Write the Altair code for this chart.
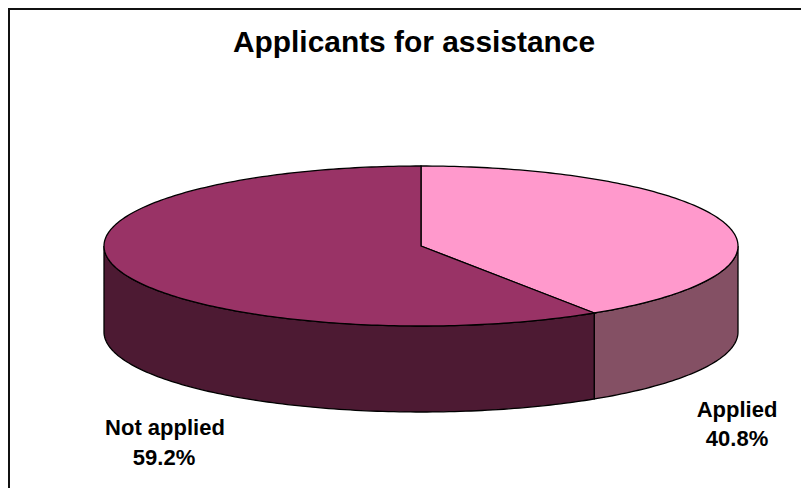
import math
import altair as alt
import pandas as pd

title = "Applicants for assistance"
categories = ["Applied", "Not applied"]
shares = [40.8, 59.2]
share_labels = ["40.8%", "59.2%"]
top_colors = ["#FF99CC", "#993366"]
side_colors = ["#845064", "#4D1A33"]

W, H = 793, 480
CX, CY, RX, RY, DEPTH = 413, 238, 317, 80, 86


def rim(frac):
    t = 2 * math.pi * frac
    return CX + RX * math.sin(t), CY - RY * math.cos(t)


def steps(f0, f1):
    n = max(2, int(abs(f1 - f0) * 360))
    return [f0 + (f1 - f0) * i / n for i in range(n + 1)]


def poly(points):
    return {"type": "Feature", "properties": {},
            "geometry": {"type": "Polygon", "coordinates": [[[x, y] for x, y in points]]}}


f_split = shares[0] / sum(shares)

shapes = []
# walls: only the front half of the rim (fractions .25 to .75) is visible
wall_spans = [(0.25, f_split), (f_split, 0.75)]
for (a, b), col in zip(wall_spans, side_colors):
    upper = [rim(f) for f in steps(a, b)]
    lower = [(x, y + DEPTH) for x, y in reversed(upper)]
    shapes.append((poly(upper + lower + upper[:1]), col))
# top slices
top_spans = [(0.0, f_split), (f_split, 1.0)]
for (a, b), col in zip(top_spans, top_colors):
    arc = [rim(f) for f in steps(a, b)]
    shapes.append((poly([(CX, CY)] + arc + [(CX, CY)]), col))

layers = []
for feat, col in shapes:
    layers.append(
        alt.Chart(alt.Data(values=[feat]))
        .mark_geoshape(fill=col, stroke="#000000", strokeWidth=1.3)
        .project(type="identity", scale=1, translate=[0, 0])
    )

frame = alt.Chart(pd.DataFrame({"a": [0]})).mark_rule(color="#111111", strokeWidth=2)
frame_layers = [
    frame.encode(x=alt.value(0), x2=alt.value(W), y=alt.value(1)),
    frame.encode(x=alt.value(1), y=alt.value(0), y2=alt.value(H)),
]

text_df = pd.DataFrame({
    "t": [title, categories[0], share_labels[0], categories[1], share_labels[1]],
    "px": [406, 729, 729, 157, 156],
    "py": [44, 409, 438, 427, 457],
    "fs": [29.9, 22, 22, 22, 22],
})
text = (
    alt.Chart(text_df)
    .mark_text(font="Liberation Sans", fontWeight="bold", color="#000000", align="center", baseline="alphabetic")
    .encode(
        x=alt.X("px:Q", scale=None),
        y=alt.Y("py:Q", scale=None),
        text="t:N",
        size=alt.Size("fs:Q", scale=None, legend=None),
    )
)

chart = (
    alt.layer(*layers, *frame_layers, text)
    .properties(width=W, height=H, padding=0, background="#FFFFFF",
                autosize=alt.AutoSizeParams(type="none"))
    .configure_view(stroke=None)
)
chart.save("out.html", embed_options={"renderer": "svg", "actions": False})
